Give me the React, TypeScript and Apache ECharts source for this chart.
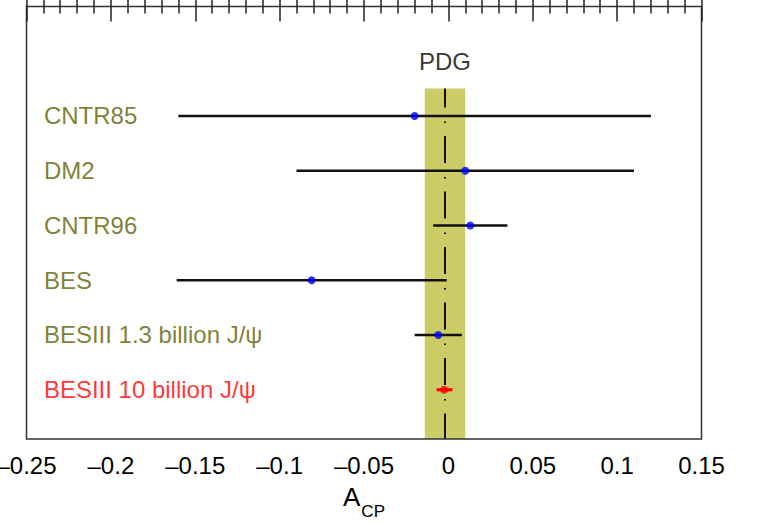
import React, { useEffect, useRef } from "react";
import * as echarts from "echarts";

// ---- data ----
const categories = [
  "CNTR85",
  "DM2",
  "CNTR96",
  "BES",
  "BESIII 1.3 billion J/ψ",
  "BESIII 10 billion J/ψ",
];
const centralValues = [-0.02, 0.01, 0.013, -0.081, -0.006, -0.0025];
const lowerEdges = [-0.16, -0.09, -0.009, -0.161, -0.02, -0.007];
const upperEdges = [0.12, 0.11, 0.035, -0.001, 0.008, 0.0024];
const pdgValue = -0.002;
const pdgError = 0.012;
const pdgLabel = "PDG";
const xTickValues = [-0.25, -0.2, -0.15, -0.1, -0.05, 0, 0.05, 0.1, 0.15];
const xTickLabels = ["–0.25", "–0.2", "–0.15", "–0.1", "–0.05", "0", "0.05", "0.1", "0.15"];

// ---- layout / style ----
const X_MIN = -0.25;
const X_MAX = 0.15;
const X_STEP = 0.05;
const Y_MAX = 7.9;
const ROW_OFFSET = 2;
const BAND_TOP = 1.5;
const PDG_LABEL_Y = 1.0;
const LABEL_X = -0.24;
const HIGHLIGHT = categories.length - 1;
const OLIVE = "#5e5e00";
const RED = "#ff0000";
const BLUE = "#0000ff";
const FONT = "Liberation Sans, Arial, Helvetica, sans-serif";

const rowY = (i: number) => i + ROW_OFFSET;

const tickFormatter = (v: number) => {
  const idx = xTickValues.findIndex((t) => Math.abs(t - v) < 1e-6);
  return idx >= 0 ? xTickLabels[idx] : "";
};

export default function App() {
  const ref = useRef<HTMLDivElement>(null);
  useEffect(() => {
    if (!ref.current) return;
    const chart = echarts.init(ref.current, null, { renderer: "svg" });

    const tickCommon = {
      type: "value" as const,
      min: X_MIN,
      max: X_MAX,
      interval: X_STEP,
      z: 5,
      axisLine: { show: false },
      axisTick: { show: true, inside: true, length: 15, lineStyle: { color: "#222", width: 1.5 } },
      minorTick: { show: true, splitNumber: 5, length: 7, lineStyle: { color: "#222", width: 1.5 } },
      splitLine: { show: false },
      minorSplitLine: { show: false },
    };

    const errData = categories.map((_, i) => [
      centralValues[i],
      rowY(i),
      lowerEdges[i],
      upperEdges[i],
    ]);

    chart.setOption({
      animation: false,
      textStyle: { fontFamily: FONT },
      grid: {
        left: 26.5,
        right: 55.5,
        top: 6.5,
        bottom: 84,
        show: true,
        z: 5,
        outerBoundsMode: "none",
        containLabel: false,
        borderColor: "#333",
        borderWidth: 1.5,
        backgroundColor: "transparent",
      },
      xAxis: [
        {
          ...tickCommon,
          position: "bottom",
          axisLabel: {
            show: true,
            fontSize: 24,
            color: "#000",
            margin: 14,
            fontFamily: FONT,
            formatter: tickFormatter,
          },
          name: "{a|A}{s|CP}",
          nameLocation: "middle",
          nameGap: 45,
          nameTextStyle: {
            verticalAlign: "top",
            rich: {
              a: { fontSize: 26, color: "#000", fontFamily: FONT, verticalAlign: "top" },
              s: {
                fontSize: 17,
                color: "#000",
                fontFamily: FONT,
                verticalAlign: "top",
                padding: [19, 0, 0, 1],
              },
            },
          },
        },
        {
          ...tickCommon,
          position: "top",
          axisLabel: { show: false },
        },
      ],
      yAxis: {
        type: "value",
        min: 0,
        max: Y_MAX,
        inverse: true,
        show: false,
        splitLine: { show: false },
      },
      series: [
        {
          type: "custom",
          z: 1,
          silent: true,
          data: [[pdgValue - pdgError, pdgValue + pdgError]],
          renderItem: (params: any, api: any) => {
            const p1 = api.coord([api.value(0), BAND_TOP]);
            const p2 = api.coord([api.value(1), Y_MAX]);
            return {
              type: "rect",
              shape: { x: p1[0], y: p1[1], width: p2[0] - p1[0], height: p2[1] - p1[1] },
              style: { fill: "#cccc66" },
            };
          },
        },
        {
          type: "line",
          z: 2,
          silent: true,
          symbol: "none",
          data: [
            [pdgValue, BAND_TOP],
            [pdgValue, Y_MAX],
          ],
          lineStyle: { color: "#111", width: 2, type: [27, 14, 1.5, 13], dashOffset: 8 },
        },
        {
          type: "scatter",
          z: 3,
          silent: true,
          symbolSize: 1,
          itemStyle: { color: "transparent" },
          data: [[pdgValue, PDG_LABEL_Y]],
          label: {
            show: true,
            position: "inside",
            formatter: pdgLabel,
            fontSize: 24,
            color: "#000",
            fontFamily: FONT,
          },
        },
        {
          type: "custom",
          z: 6,
          silent: true,
          encode: { x: [0, 2, 3], y: 1 },
          data: errData,
          renderItem: (params: any, api: any) => {
            const y = api.value(1);
            const p1 = api.coord([api.value(2), y]);
            const p2 = api.coord([api.value(3), y]);
            const hl = params.dataIndex === HIGHLIGHT;
            return {
              type: "line",
              shape: { x1: p1[0], y1: p1[1], x2: p2[0], y2: p2[1] },
              style: { stroke: hl ? RED : "#111", lineWidth: hl ? 3.2 : 2.6 },
            };
          },
        },
        {
          type: "scatter",
          z: 7,
          silent: true,
          symbol: "circle",
          symbolSize: 8,
          data: categories.map((_, i) => ({
            value: [centralValues[i], rowY(i)],
            itemStyle: { color: i === HIGHLIGHT ? RED : BLUE },
          })),
        },
        {
          type: "scatter",
          z: 7,
          silent: true,
          symbolSize: 1,
          itemStyle: { color: "transparent" },
          data: categories.map((c, i) => ({
            value: [LABEL_X, rowY(i)],
            name: c,
            label: { color: i === HIGHLIGHT ? RED : OLIVE },
          })),
          label: {
            show: true,
            position: "right",
            distance: 0,
            formatter: (p: any) => p.name,
            fontSize: 24,
            fontFamily: FONT,
          },
        },
      ],
    });
    return () => chart.dispose();
  }, []);
  return (
    <div
      ref={ref}
      style={{ position: "fixed", left: 0, top: 0, width: 757, height: 523, background: "#fff" }}
    />
  );
}
